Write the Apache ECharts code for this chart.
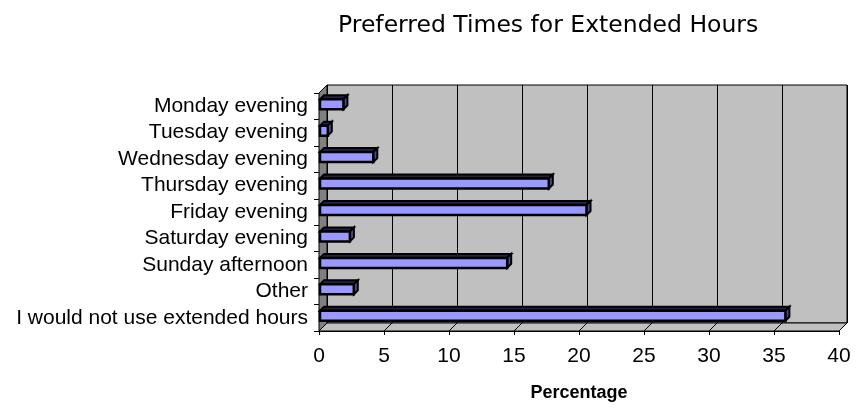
<!DOCTYPE html>
<html>
<head>
<meta charset="utf-8">
<script src="https://cdn.jsdelivr.net/npm/echarts@6/dist/echarts.min.js"></script>
<style>
  html, body { margin: 0; padding: 0; background: #fff; }
  #chart { width: 861px; height: 414px; }
</style>
</head>
<body>
<div id="chart"></div>
<script>
// Survey answers: when people would use extended opening hours
const categories = [
  'Monday evening',
  'Tuesday evening',
  'Wednesday evening',
  'Thursday evening',
  'Friday evening',
  'Saturday evening',
  'Sunday afternoon',
  'Other',
  'I would not use extended hours'
];
const percentages = [1.8, 0.6, 4.1, 17.6, 20.5, 2.3, 14.4, 2.6, 35.8];

const axisMin = 0;
const axisMax = 40;
const axisStep = 5;

const titleText = 'Preferred Times for Extended Hours';
const axisTitle = 'Percentage';

// depth of the pseudo-3D box (back wall offset) and of each bar
const DEPTH = 8;
const BAR_DEPTH = 4;
const BAR_H = 10;

const chart = echarts.init(document.getElementById('chart'));

// Walls, floor and floor tick connectors of the 3D frame
function renderFrame(params, api) {
  const cs = params.coordSys;
  const x0 = cs.x, x1 = cs.x + cs.width;
  const yT = cs.y, yB = cs.y + cs.height;
  const children = [];
  // left side wall
  children.push({
    type: 'polygon',
    shape: { points: [[x0, yT], [x0 + DEPTH, yT - DEPTH], [x0 + DEPTH, yB - DEPTH], [x0, yB]] },
    style: { fill: '#808080', stroke: '#000', lineWidth: 1 }
  });
  // floor
  children.push({
    type: 'polygon',
    shape: { points: [[x0, yB], [x0 + DEPTH, yB - DEPTH], [x1 + DEPTH, yB - DEPTH], [x1, yB]] },
    style: { fill: '#C0C0C0', stroke: '#000', lineWidth: 1 }
  });
  // diagonal lines on the floor at each value tick
  for (let v = axisMin; v <= axisMax; v += axisStep) {
    const p = api.coord([v, 0]);
    children.push({
      type: 'line',
      shape: { x1: p[0], y1: yB, x2: p[0] + DEPTH, y2: yB - DEPTH },
      style: { stroke: '#000', lineWidth: 1 }
    });
  }
  return { type: 'group', children: children };
}

// One box-shaped bar per answer
function renderBar(params, api) {
  const v = api.value(0);
  const i = api.value(1);
  const a = api.coord([0, i]);
  const b = api.coord([v, i]);
  const xs = a[0] + 1;
  const xe = b[0] + 1;
  const yc = a[1] - 2;
  const yt = yc - BAR_H / 2;
  const yb = yc + BAR_H / 2;
  const d = BAR_DEPTH;
  return {
    type: 'group',
    children: [
      {
        type: 'polygon',
        shape: { points: [[xs, yt], [xs + d, yt - d], [xe + d, yt - d], [xe, yt]] },
        style: { fill: '#222244', stroke: '#000', lineWidth: 2 }
      },
      {
        type: 'polygon',
        shape: { points: [[xe, yt], [xe + d, yt - d], [xe + d, yb - d], [xe, yb]] },
        style: { fill: '#4C4C99', stroke: '#000', lineWidth: 2 }
      },
      {
        type: 'rect',
        shape: { x: xs, y: yt, width: xe - xs, height: BAR_H },
        style: { fill: '#9999FF', stroke: '#000', lineWidth: 2.5 }
      }
    ]
  };
}

const option = {
  animation: false,
  backgroundColor: '#ffffff',
  title: {
    text: titleText,
    left: 333,
    top: 9,
    textStyle: { fontFamily: 'DejaVu Sans', fontSize: 23.5, fontWeight: 'normal', color: '#000' }
  },
  grid: [
    // front plane: carries the visible axes and the bars
    { left: 319, right: 22, top: 93, bottom: 83 },
    // back wall
    { left: 319 + DEPTH, right: 22 - DEPTH, top: 93 - DEPTH, bottom: 83 + DEPTH,
      show: true, backgroundColor: '#C0C0C0', borderColor: '#000', borderWidth: 1 }
  ],
  xAxis: [
    {
      gridIndex: 0, type: 'value', min: axisMin, max: axisMax, interval: axisStep,
      axisLine: { show: true, lineStyle: { color: '#000', width: 1 } },
      axisTick: { show: true, length: 4, lineStyle: { color: '#000' } },
      axisLabel: { color: '#000', fontFamily: 'Liberation Sans', fontSize: 21, margin: 15 },
      splitLine: { show: false },
      name: axisTitle, nameLocation: 'middle', nameGap: 53,
      nameTextStyle: { fontFamily: 'Liberation Sans', fontSize: 18, fontWeight: 'bold', color: '#000' }
    },
    {
      gridIndex: 1, type: 'value', min: axisMin, max: axisMax, interval: axisStep,
      axisLine: { show: false }, axisTick: { show: false }, axisLabel: { show: false },
      splitLine: { show: true, lineStyle: { color: '#000', width: 1 } }
    }
  ],
  yAxis: [
    {
      gridIndex: 0, type: 'category', data: categories, inverse: true,
      axisLine: { show: true, lineStyle: { color: '#000', width: 1 } },
      axisTick: { show: true, length: 5, interval: 0, lineStyle: { color: '#000' } },
      axisLabel: { color: '#000', fontFamily: 'Liberation Sans', fontSize: 21, margin: 11, interval: 0 },
      splitLine: { show: false }
    },
    {
      gridIndex: 1, type: 'category', data: categories, inverse: true,
      show: false
    }
  ],
  series: [
    {
      type: 'custom',
      xAxisIndex: 0, yAxisIndex: 0,
      renderItem: renderFrame,
      data: [[0, 0]],
      silent: true,
      z: 1
    },
    {
      type: 'custom',
      xAxisIndex: 0, yAxisIndex: 0,
      renderItem: renderBar,
      encode: { x: 0, y: 1 },
      data: percentages.map((v, i) => [v, i]),
      z: 3
    }
  ]
};

chart.setOption(option);
</script>
</body>
</html>
